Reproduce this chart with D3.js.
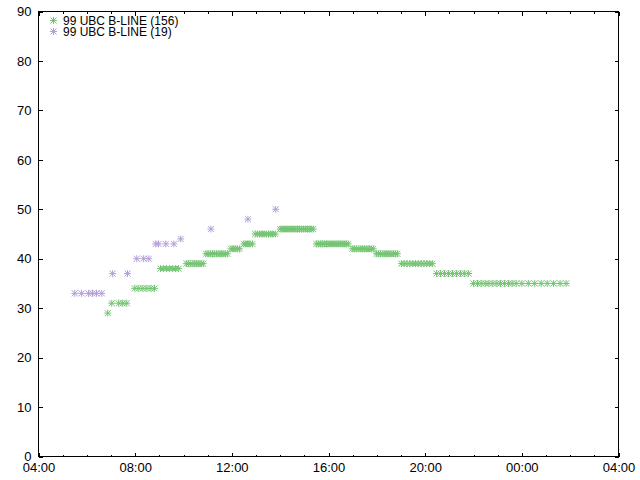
<!DOCTYPE html>
<html>
<head>
<meta charset="utf-8">
<script src="https://cdn.jsdelivr.net/npm/d3@7"></script>
<style>
  html, body { margin: 0; padding: 0; background: #fff; }
  svg { display: block; }
  text { font-family: "Liberation Sans", Arial, sans-serif; fill: #000; }
</style>
</head>
<body>
<svg id="chart" width="640" height="480"></svg>
<script>
// ---------------- data ----------------
const seriesNames = ["99 UBC B-LINE (156)", "99 UBC B-LINE (19)"];
const seriesColors = ["#74c474", "#b4a0d8"];

const greenTimes = [
  "06:52",
  "07:02","07:19","07:29","07:39",
  "07:59","08:09","08:19","08:29","08:39","08:48",
  "09:03","09:10","09:18","09:25","09:33","09:40","09:48",
  "10:07","10:12","10:17","10:23","10:28","10:33","10:38","10:44","10:49",
  "10:56","11:01","11:07","11:12","11:17","11:22","11:28","11:33","11:38","11:44","11:49",
  "11:58","12:03","12:08","12:14","12:19",
  "12:30","12:35","12:40","12:45","12:51",
  "12:58","13:04","13:09","13:15","13:20","13:26","13:31","13:37","13:42","13:48",
  "14:00","14:05","14:10","14:14","14:19","14:24","14:29","14:34","14:39","14:43","14:48","14:53","14:58","15:03","15:08","15:12","15:17","15:22",
  "15:30","15:35","15:40","15:45","15:50","15:55","15:59","16:04","16:09","16:14","16:19","16:24","16:29","16:34","16:39","16:44","16:49",
  "16:59","17:04","17:09","17:15","17:20","17:25","17:30","17:35","17:41","17:46","17:51",
  "17:59","18:04","18:09","18:15","18:20","18:25","18:30","18:35","18:41","18:46","18:51",
  "19:01","19:08","19:15","19:22","19:29","19:36","19:43","19:50","19:57","20:04","20:11","20:18",
  "20:28","20:38","20:48","20:58","21:08","21:18","21:28","21:38","21:48",
  "22:00","22:10","22:19","22:29","22:38","22:48","22:58","23:07","23:17","23:27","23:36","23:46",
  "00:00","00:16","00:32","00:48","01:03","01:19","01:35","01:50"
];
const greenValues = [
  29,
  31,31,31,31,
  34,34,34,34,34,34,
  38,38,38,38,38,38,38,
  39,39,39,39,39,39,39,39,39,
  41,41,41,41,41,41,41,41,41,41,41,
  42,42,42,42,42,
  43,43,43,43,43,
  45,45,45,45,45,45,45,45,45,45,
  46,46,46,46,46,46,46,46,46,46,46,46,46,46,46,46,46,46,
  43,43,43,43,43,43,43,43,43,43,43,43,43,43,43,43,43,
  42,42,42,42,42,42,42,42,42,42,42,
  41,41,41,41,41,41,41,41,41,41,41,
  39,39,39,39,39,39,39,39,39,39,39,39,
  37,37,37,37,37,37,37,37,37,
  35,35,35,35,35,35,35,35,35,35,35,35,
  35,35,35,35,35,35,35,35
];

const purpleTimes = [
  "05:30","05:47","06:04","06:14","06:24","06:37",
  "07:04","07:41",
  "08:04","08:21","08:34",
  "08:51","08:58","09:16","09:36",
  "09:53","11:08","12:40","13:49"
];
const purpleValues = [
  33,33,33,33,33,33,
  37,37,
  40,40,40,
  43,43,43,43,
  44,46,48,50
];

const xDomainStart = "04:00";
const xDomainHours = 24;
const yTicks = [0,10,20,30,40,50,60,70,80,90];

// ---------------- helpers ----------------
const baseDay = new Date(2020, 0, 1);
function parseClock(s) {
  const [h, m] = s.split(":").map(Number);
  const d = new Date(baseDay);
  d.setHours(h < 4 ? h + 24 : h, m, 0, 0);
  return d;
}

const plotL = 38.5, plotR = 618.5, plotT = 11.5, plotB = 456.5;

const svg = d3.select("#chart");

const t0 = parseClock(xDomainStart);
const t1 = new Date(t0.getTime() + xDomainHours * 3600 * 1000);
const x = d3.scaleTime().domain([t0, t1]).range([plotL, plotR]);
const y = d3.scaleLinear().domain([0, 90]).range([plotB, plotT]);

// frame
svg.append("rect")
  .attr("x", plotL).attr("y", plotT)
  .attr("width", plotR - plotL).attr("height", plotB - plotT)
  .attr("fill", "none").attr("stroke", "#000").attr("stroke-width", 1);

const majorX = d3.timeHour.every(4);
const minorX = d3.timeHour.every(1);
const fmt = d3.timeFormat("%H:%M");

function styleAxis(g) {
  g.select(".domain").remove();
  g.selectAll(".tick line").attr("stroke", "#000").attr("shape-rendering", "crispEdges");
  g.selectAll("text").attr("font-size", 13).attr("fill", "#000")
    .style("font-family", '"Liberation Sans", Arial, sans-serif');
}

// bottom
svg.append("g").attr("transform", `translate(0,${plotB})`)
  .call(d3.axisBottom(x).ticks(minorX).tickSize(-2).tickFormat(""))
  .call(styleAxis);
svg.append("g").attr("transform", `translate(0,${plotB})`)
  .call(d3.axisBottom(x).ticks(majorX).tickSizeInner(-4).tickSizeOuter(0).tickPadding(6).tickFormat(fmt))
  .call(styleAxis);
// top mirror
svg.append("g").attr("transform", `translate(0,${plotT})`)
  .call(d3.axisTop(x).ticks(minorX).tickSize(-2).tickFormat(""))
  .call(styleAxis);
svg.append("g").attr("transform", `translate(0,${plotT})`)
  .call(d3.axisTop(x).ticks(majorX).tickSize(-4).tickFormat(""))
  .call(styleAxis);
// left
svg.append("g").attr("transform", `translate(${plotL},0)`)
  .call(d3.axisLeft(y).tickValues(yTicks).tickSizeInner(-4).tickSizeOuter(0).tickPadding(7).tickFormat(d3.format("d")))
  .call(styleAxis);
// right mirror
svg.append("g").attr("transform", `translate(${plotR},0)`)
  .call(d3.axisRight(y).tickValues(yTicks).tickSize(-4).tickFormat(""))
  .call(styleAxis);

// star marker (gnuplot pt 3)
function starPath(r) {
  const d = r * 0.86;
  return `M${-r},0H${r}M0,${-r}V${r}M${-d},${-d}L${d},${d}M${-d},${d}L${d},${-d}`;
}
const star = starPath(3.5);

const series = [
  { times: greenTimes, values: greenValues, color: seriesColors[0] },
  { times: purpleTimes, values: purpleValues, color: seriesColors[1] }
];

series.forEach(s => {
  const pts = s.times.map((t, i) => ({ t: parseClock(t), v: s.values[i] }));
  svg.append("g").selectAll("path").data(pts).join("path")
    .attr("d", star)
    .attr("transform", d => `translate(${x(d.t)},${y(d.v)})`)
    .attr("fill", "none")
    .attr("stroke", s.color)
    .attr("stroke-width", 1);
});

// legend
const lg = svg.append("g");
seriesNames.forEach((name, i) => {
  const cy = 20.5 + i * 11;
  lg.append("path").attr("d", star)
    .attr("transform", `translate(53.5,${cy})`)
    .attr("fill", "none").attr("stroke", seriesColors[i]).attr("stroke-width", 1);
  lg.append("text").attr("x", 63).attr("y", cy + 4)
    .attr("font-size", 12).text(name);
});
</script>
</body>
</html>
